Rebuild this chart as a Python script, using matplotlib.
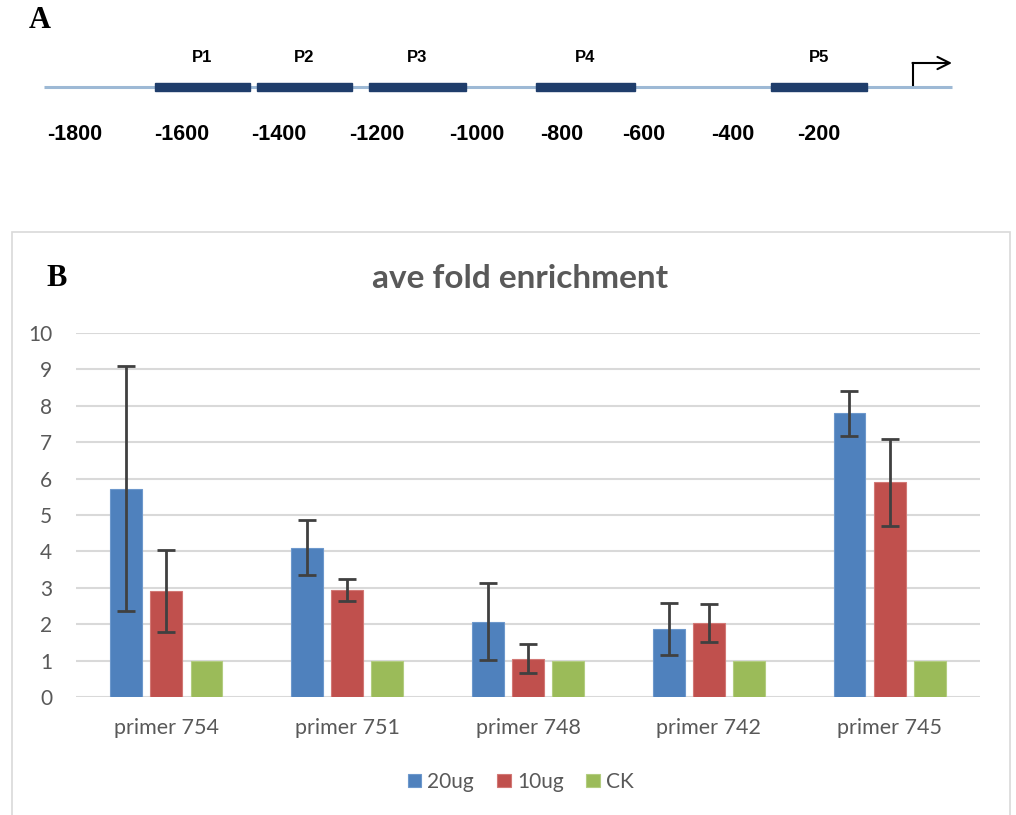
import numpy as np
import matplotlib.pyplot as plt
from matplotlib.patches import Rectangle

# panel A: primer map along the promoter (bp upstream of TSS)
primer_names = ['P1', 'P2', 'P3', 'P4', 'P5']
primer_start = [-1628, -1409, -1168, -809, -303]
primer_end = [-1424, -1204, -959, -596, -97]
bp_labels = ['-1800', '-1600', '-1400', '-1200', '-1000', '-800', '-600', '-400', '-200']
bp_label_pos = [-1800, -1570, -1361, -1151, -935, -753, -576, -385, -200]
promoter_from, promoter_to = -1867, 86
tss = 2

# panel B: ChIP-qPCR fold enrichment
primers = ['primer 754', 'primer 751', 'primer 748', 'primer 742', 'primer 745']
ug20 = [5.72, 4.10, 2.07, 1.87, 7.79]
ug20_err = [3.36, 0.75, 1.06, 0.71, 0.61]
ug10 = [2.91, 2.94, 1.05, 2.03, 5.90]
ug10_err = [1.13, 0.30, 0.40, 0.52, 1.20]
ck = [1, 1, 1, 1, 1]

W, H = 1016, 815
fig = plt.figure(figsize=(W / 100, H / 100), dpi=100)
plt.rcParams['font.family'] = ['Lato', 'DejaVu Sans']

# ---------- A ----------
axA = fig.add_axes([0, 1 - 190 / H, 1, 190 / H])
bp_per_px = 1600 / 744
axA.set_xlim(-1800 - 75 * bp_per_px, -1800 + (W - 75) * bp_per_px)
axA.set_ylim(0, 190)
axA.axis('off')
y_line = 190 - 87
axA.plot([promoter_from, promoter_to], [y_line, y_line], color='#9db9d5', lw=2.2,
         solid_capstyle='butt', zorder=1)
for name, s, e in zip(primer_names, primer_start, primer_end):
    axA.add_patch(Rectangle((s, y_line - 4), e - s, 8, color='#1f3d6b', zorder=2))
    axA.text((s + e) / 2, y_line + 29, name, ha='center', va='center',
             fontsize=12, fontweight='bold', family='Liberation Sans')
for lab, x in zip(bp_labels, bp_label_pos):
    axA.text(x, 190 - 135, lab, ha='center', va='center', fontsize=15.5,
             fontweight='bold', family='Liberation Sans')
# transcription start arrow
axA.plot([tss, tss], [y_line + 2, y_line + 24], color='black', lw=1.5)
axA.annotate('', xy=(promoter_to, y_line + 24), xytext=(tss - 1, y_line + 24),
             arrowprops=dict(arrowstyle='->', color='black', lw=1.5,
                             mutation_scale=22, shrinkA=0, shrinkB=0))
fig.text(29 / W, 1 - 21 / H, 'A', fontsize=22, fontweight='bold',
         family='Liberation Serif', va='center', ha='left')

# ---------- B ----------
fig.patches.append(Rectangle((12 / W, -0.01), (1010 - 12) / W, (H - 232) / H + 0.01,
                             transform=fig.transFigure, fill=False,
                             edgecolor='#d9d9d9', lw=1.2))
fig.text(46 / W, 1 - 278 / H, 'B', fontsize=22, fontweight='bold',
         family='Liberation Serif', va='center', ha='left')
fig.text(520 / W, 1 - 278 / H, 'ave fold enrichment', fontsize=24, fontweight='bold',
         color='#595959', ha='center', va='center')

axB = fig.add_axes([76 / W, 1 - 697 / H, (980 - 76) / W, (697 - 333) / H])
x = np.arange(len(primers))
bw, step = 0.176, 0.222
err_kw = dict(ecolor='#404040', elinewidth=2, capsize=6.5, capthick=2)
axB.bar(x - step, ug20, bw, yerr=ug20_err, color='#4f81bd', edgecolor='#6d98cc',
        lw=0.8, label='20ug', error_kw=err_kw, zorder=3)
axB.bar(x, ug10, bw, yerr=ug10_err, color='#c0504d', edgecolor='#d27875',
        lw=0.8, label='10ug', error_kw=err_kw, zorder=3)
axB.bar(x + step, ck, bw, color='#9bbb59', edgecolor='#b3cd80', lw=0.8,
        label='CK', zorder=3)
axB.set_xlim(-0.5, len(primers) - 0.5)
axB.set_ylim(0, 10)
axB.set_yticks(range(0, 11))
axB.set_xticks(x, primers)
axB.yaxis.grid(True, color='#d9d9d9', lw=1.5, zorder=0)
for side in ['top', 'right', 'left', 'bottom']:
    axB.spines[side].set_visible(False)
axB.tick_params(length=0, labelcolor='#595959')
axB.tick_params(axis='y', pad=17, labelsize=15)
axB.tick_params(axis='x', pad=15, labelsize=15.5)
axB.legend(loc='center', bbox_to_anchor=(0.492, -0.233), ncol=3, frameon=False,
           fontsize=15, labelcolor='#595959', handlelength=0.65, handleheight=0.65,
           handletextpad=0.3, columnspacing=1.1)

plt.savefig('out.png', dpi=100)
